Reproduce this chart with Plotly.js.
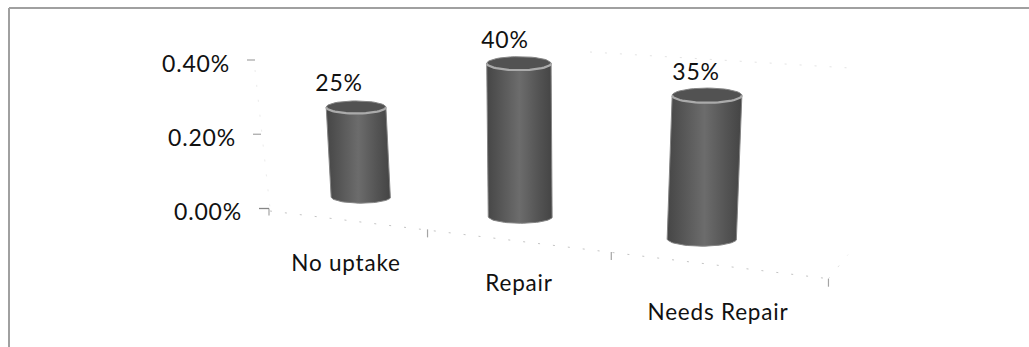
<!DOCTYPE html>
<html>
<head>
<meta charset="utf-8">
<script src="https://cdn.plot.ly/plotly-3.0.1.min.js"></script>
<style>html,body{margin:0;padding:0;background:#fff}#chart{width:1029px;height:347px}#chart text{letter-spacing:.8px}</style>
</head>
<body>
<div id="chart"></div>
<script>
// Chart data
const categories = ['No uptake', 'Repair', 'Needs Repair'];
const uptakeValues = [25, 40, 35];
const valueLabels = ['25%', '40%', '35%'];
const axisTickValues = [0, 0.2, 0.4];
const axisTickLabels = ['0.00%', '0.20%', '0.40%'];

// Perspective model of the 3-D column chart. Depth t runs along the floor, one unit per category.
const VANISH = -0.0714;
const FLOOR_X0 = 270, FLOOR_DX = 127;
const FLOOR_Y0 = 210, FLOOR_DY = 3;
const slotDepth = [0.5956, 1.5256, 2.439];
const scaleAt = t => 1 / (1 + VANISH * t);
const floorX = t => (FLOOR_X0 + FLOOR_DX * t) * scaleAt(t);
const floorY = t => (FLOOR_Y0 + FLOOR_DY * t) * scaleAt(t);

const PX_PER_UNIT = 3.45;   // column height per percentage point
const COLUMN_LIFT = 24.3;   // columns stand back from the front floor edge
const COLUMN_R = 28.5;
const CAP_RATIO = 0.21;
const columnLean = [-0.055, -0.01, 0.035];  // sideways drift per pixel of height
const labelShift = [-17, -14, -11];

const AXIS_Y0 = 208.5, AXIS_SPAN = 148.5;
const FONT = 'Lato, sans-serif';
const TEXT_COLOR = '#111';

const traces = [];

// Faint dotted wall and floor rules
const dotted = (xs, ys, color) => ({
  type: 'scatter', mode: 'lines', x: xs, y: ys, hoverinfo: 'skip',
  line: {color: color, width: 1, dash: '2px 13px'}
});
traces.push(dotted([floorX(0), floorX(3)], [floorY(0) + 1, floorY(3)], '#c4c4c4'));
traces.push(dotted([floorX(3), 848], [floorY(3), floorY(3) - 24], '#e0e0e0'));
traces.push(dotted([590, 850], [52, 68], '#e4e4e4'));
traces.push(dotted([255, 270], [70, AXIS_Y0], '#ececec'));

// Floor tick marks at each category boundary
[1, 2, 3].forEach(t => {
  const x = floorX(t), y = floorY(t);
  traces.push({type: 'scatter', mode: 'lines', x: [x, x], y: [y, y + 8], hoverinfo: 'skip',
    line: {color: '#a4a4a4', width: 1.2}});
});
traces.push({type: 'scatter', mode: 'lines', x: [floorX(0) - 1, floorX(0) - 1], y: [AXIS_Y0, AXIS_Y0 + 7], hoverinfo: 'skip',
  line: {color: '#a4a4a4', width: 1.2}});

// Slanted value axis: short tick dashes and their labels
axisTickValues.forEach((v, i) => {
  const y = AXIS_Y0 - v / 0.4 * AXIS_SPAN;
  const x = 259 - v / 0.4 * 12;
  traces.push({type: 'scatter', mode: 'lines', x: [x, x + (v === 0 ? 10 : 8)], y: [y, y], hoverinfo: 'skip',
    line: {color: v === 0 ? '#858585' : '#ababab', width: 1.3}});
  traces.push({type: 'scatter', mode: 'text', x: [x - 17], y: [y + 6], text: [axisTickLabels[i]],
    textposition: 'middle left', cliponaxis: false, hoverinfo: 'skip',
    textfont: {family: FONT, size: 23, color: TEXT_COLOR}});
});

// Cylinder outline sampled from an ellipse arc
const arc = (cx, cy, rx, ry, from, to, n) => {
  const xs = [], ys = [];
  for (let k = 0; k <= n; k++) {
    const a = from + (to - from) * k / n;
    xs.push(cx + rx * Math.cos(a));
    ys.push(cy + ry * Math.sin(a));
  }
  return [xs, ys];
};

const shade = [[0, '#464646'], [0.2, '#555555'], [0.5, '#6c6c6c'], [0.8, '#535353'], [1, '#444444']];

categories.forEach((name, i) => {
  const t = slotDepth[i], s = scaleAt(t);
  const baseX = floorX(t), baseY = floorY(t) - COLUMN_LIFT;
  const h = uptakeValues[i] * PX_PER_UNIT * Math.pow(s, 0.9);
  const topY = baseY - h;
  const topX = baseX + columnLean[i] * h;
  const r = COLUMN_R * Math.pow(s, 1.05), ry = r * CAP_RATIO;

  const [bx, by] = arc(baseX, baseY, r, ry, 0, Math.PI, 36);
  traces.push({
    type: 'scatter', mode: 'lines', hoverinfo: 'skip', fill: 'toself',
    x: [topX + r, ...bx, topX - r, topX + r],
    y: [topY, ...by, topY, topY],
    line: {color: '#858585', width: 1},
    fillgradient: {type: 'horizontal', colorscale: shade}
  });

  // Top cap with its pale rim
  const [cx, cy] = arc(topX, topY, r, ry, 0, 2 * Math.PI, 48);
  traces.push({type: 'scatter', mode: 'lines', x: cx, y: cy, hoverinfo: 'skip', fill: 'toself',
    fillcolor: '#525252', line: {color: '#858585', width: 1}});
  const [rimX, rimY] = arc(topX, topY, r, ry, 0, Math.PI, 28);
  traces.push({type: 'scatter', mode: 'lines', x: rimX, y: rimY, hoverinfo: 'skip',
    line: {color: '#ababab', width: 2.2}});

  // Value above the cap
  traces.push({type: 'scatter', mode: 'text', x: [topX + labelShift[i]], y: [topY - 21.5], text: [valueLabels[i]],
    textposition: 'middle center', cliponaxis: false, hoverinfo: 'skip',
    textfont: {family: FONT, size: 23, color: TEXT_COLOR}});
});

// Category names sit below the floor edge
const nameX = [346, 519, 718], nameY = [265, 285, 314];
categories.forEach((name, i) => {
  traces.push({type: 'scatter', mode: 'text', x: [nameX[i]], y: [nameY[i]], text: [name],
    textposition: 'middle center', cliponaxis: false, hoverinfo: 'skip',
    textfont: {family: FONT, size: 22.5, color: TEXT_COLOR}});
});

const layout = {
  width: 1029, height: 347, showlegend: false,
  margin: {l: 0, r: 0, t: 0, b: 0},
  paper_bgcolor: '#fff', plot_bgcolor: '#fff',
  xaxis: {range: [0, 1029], visible: false, fixedrange: true},
  yaxis: {range: [347, 0], visible: false, fixedrange: true},
  shapes: [
    {type: 'line', xref: 'x', yref: 'y', x0: 9, x1: 1029, y0: 8, y1: 8, line: {color: '#a0a0a0', width: 2}},
    {type: 'line', xref: 'x', yref: 'y', x0: 9, x1: 9, y0: 8, y1: 347, line: {color: '#a0a0a0', width: 2}}
  ]
};

Plotly.newPlot('chart', traces, layout, {staticPlot: true, displayModeBar: false});
</script>
</body>
</html>
